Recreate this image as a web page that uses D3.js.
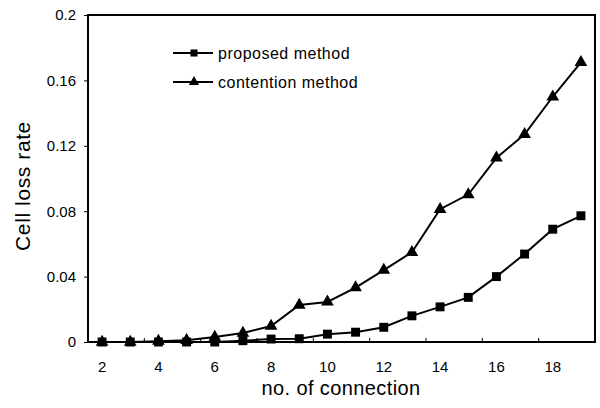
<!DOCTYPE html>
<html>
<head>
<meta charset="utf-8">
<script src="https://cdn.jsdelivr.net/npm/d3@7"></script>
<style>
  body { margin: 0; background: #fff; }
  svg text { font-family: "Liberation Sans", Arial, sans-serif; fill: #000; }
</style>
</head>
<body>
<svg id="chart" width="600" height="408"></svg>
<script>
var connections = [2, 3, 4, 5, 6, 7, 8, 9, 10, 11, 12, 13, 14, 15, 16, 17, 18, 19];
var proposed = [0, 0, 0, 0, 0, 0.0008, 0.0018, 0.002, 0.0048, 0.006, 0.009, 0.016, 0.0215, 0.0273, 0.040, 0.0538, 0.069, 0.0772];
var contention = [0, 0, 0.0005, 0.001, 0.003, 0.0055, 0.0098, 0.0226, 0.0245, 0.0333, 0.044, 0.0549, 0.0812, 0.0902, 0.1126, 0.127, 0.150, 0.171];
var yTicks = [0, 0.04, 0.08, 0.12, 0.16, 0.2];
var xLabels = [2, 4, 6, 8, 10, 12, 14, 16, 18];

(function() {
  var plotLeft = 88, plotTop = 15, plotRight = 595, plotBottom = 342;
  var font = '"Liberation Sans", Arial, sans-serif';
  var svg = d3.select('#chart');

  var x = d3.scaleBand().domain(connections).range([plotLeft, plotRight]).padding(0);
  var y = d3.scaleLinear().domain([0, 0.2]).range([plotBottom, plotTop]);
  var cx = function(d) { return x(d) + x.bandwidth() / 2; };

  // x axis labels (categories, no tick marks)
  var xAxis = svg.append('g').attr('transform', 'translate(0,' + plotBottom + ')')
    .call(d3.axisBottom(x).tickValues(xLabels).tickSize(0).tickPadding(19));
  xAxis.select('.domain').remove();
  xAxis.selectAll('text').style('font-size', '15px').style('font-family', font);

  // inside tick marks between categories
  svg.append('g').selectAll('line').data(xLabels.slice(1)).enter().append('line')
    .attr('x1', function(d) { return x(d); }).attr('x2', function(d) { return x(d); })
    .attr('y1', plotBottom).attr('y2', plotBottom - 4)
    .attr('stroke', '#000').attr('stroke-width', 1);

  // y axis
  var yAxis = svg.append('g').attr('transform', 'translate(' + plotLeft + ',0)')
    .call(d3.axisLeft(y).tickValues(yTicks).tickSize(4).tickPadding(8)
      .tickFormat(function(d) { return String(+d.toFixed(2)); }));
  yAxis.select('.domain').remove();
  yAxis.selectAll('text').style('font-size', '15px').style('font-family', font);

  // frame
  svg.append('rect').attr('x', plotLeft).attr('y', plotTop)
    .attr('width', plotRight - plotLeft).attr('height', plotBottom - plotTop)
    .attr('fill', 'none').attr('stroke', '#000').attr('stroke-width', 2);

  var line = d3.line().x(function(d) { return cx(d[0]); }).y(function(d) { return y(d[1]); });
  var square = d3.symbol().type(d3.symbolSquare).size(80);
  var triangle = d3.symbol().type(d3.symbolTriangle).size(70);

  function drawSeries(values, sym) {
    var pts = connections.map(function(c, i) { return [c, values[i]]; });
    svg.append('path').datum(pts).attr('d', line)
      .attr('fill', 'none').attr('stroke', '#000').attr('stroke-width', 2);
    svg.append('g').selectAll('path').data(pts).enter().append('path')
      .attr('d', sym)
      .attr('transform', function(d) { return 'translate(' + cx(d[0]) + ',' + y(d[1]) + ')'; })
      .attr('fill', '#000');
  }
  drawSeries(contention, triangle);
  drawSeries(proposed, square);

  // legend
  var legend = [
    { label: 'proposed method', sym: d3.symbol().type(d3.symbolSquare).size(50), y: 53 },
    { label: 'contention method', sym: d3.symbol().type(d3.symbolTriangle).size(45), y: 82 }
  ];
  legend.forEach(function(l) {
    svg.append('line').attr('x1', 173).attr('x2', 213).attr('y1', l.y).attr('y2', l.y)
      .attr('stroke', '#000').attr('stroke-width', 2);
    svg.append('path').attr('d', l.sym()).attr('transform', 'translate(194,' + l.y + ')').attr('fill', '#000');
    svg.append('text').attr('x', 218).attr('y', l.y + 6).style('font-size', '16px')
      .style('letter-spacing', '0.5px').text(l.label);
  });

  // axis titles
  svg.append('text').attr('x', 341).attr('y', 395).attr('text-anchor', 'middle')
    .style('font-size', '20px').style('letter-spacing', '0.4px').text('no. of connection');
  svg.append('text').attr('transform', 'translate(30,186) rotate(-90)').attr('text-anchor', 'middle')
    .style('font-size', '21px').style('letter-spacing', '0.6px').text('Cell loss rate');
})();
</script>
</body>
</html>
